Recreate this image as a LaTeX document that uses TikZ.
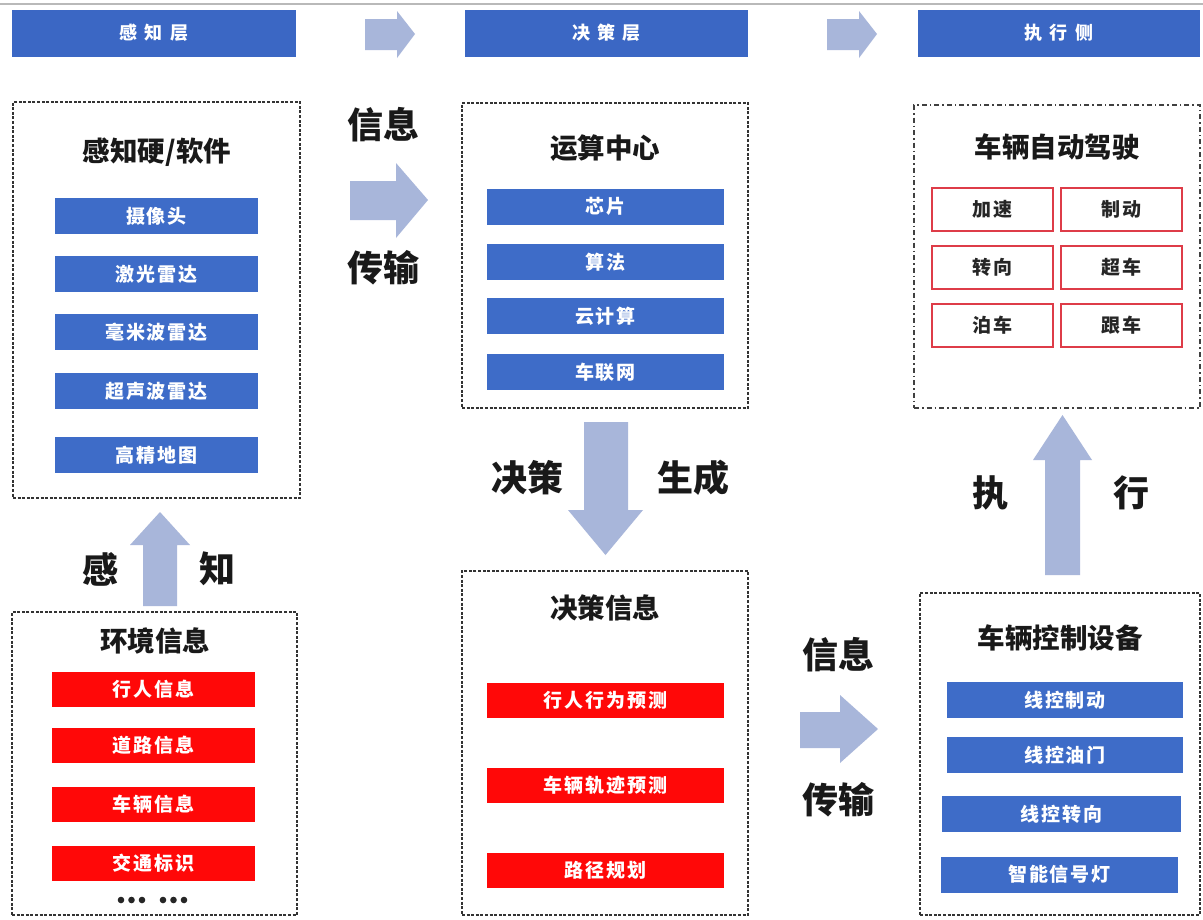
\documentclass[tikz,border=0pt]{standalone}
\usepackage{fontspec}
\setmainfont{Noto Sans CJK SC}
\definecolor{hdrblue}{RGB}{59,103,196}
\definecolor{barblue}{RGB}{62,108,200}
\definecolor{barred}{RGB}{255,8,8}
\definecolor{arrowc}{RGB}{168,182,218}
\definecolor{boxred}{RGB}{222,60,72}
\tikzset{
  hdr/.style={fill=hdrblue, draw=none, minimum height=47pt, text=white, font=\fontsize{18}{18}\selectfont\bfseries\addfontfeatures{LetterSpace=40}, inner sep=0pt},
  dbox/.style={draw=black!80, line width=1.6pt, dash pattern=on 3pt off 1.6pt, inner sep=0pt},
  ddbox/.style={draw=black!75, line width=1.6pt, dash pattern=on 5pt off 3pt on 1.5pt off 3pt, inner sep=0pt},
  ttl/.style={font=\fontsize{27.5}{28}\selectfont\bfseries, text=black!90, inner sep=0pt},
  bbar/.style={fill=barblue, minimum height=36pt, text=white, font=\fontsize{19}{19}\selectfont\bfseries\addfontfeatures{LetterSpace=10}, inner sep=0pt},
  rbar/.style={fill=barred, minimum height=35pt, text=white, font=\fontsize{19}{19}\selectfont\bfseries\addfontfeatures{LetterSpace=10}, inner sep=0pt},
  rbox/.style={draw=boxred, line width=2pt, fill=white, minimum width=121pt, minimum height=43pt, text=black!85, font=\fontsize{19}{19}\selectfont\bfseries\addfontfeatures{LetterSpace=10}, inner sep=0pt},
  big/.style={font=\fontsize{36}{36}\selectfont\bfseries, text=black!90, inner sep=0pt},
  blockarrow/.style={fill=arrowc, draw=none}
}
\begin{document}
\begin{tikzpicture}[x=1pt,y=-1pt]
\useasboundingbox (0,0) rectangle (1203,919);
\fill[white] (0,0) rectangle (1203,919);
% top gray line
\draw[gray!55, line width=2.5pt] (0,4) -- (1203,4);

% headers
\node[hdr, minimum width=284pt] (h1) at (154,33) {感知层};
\node[hdr, minimum width=283pt] (h2) at (606.5,33) {决策层};
\node[hdr, minimum width=282pt] (h3) at (1059,33) {执行侧};
\fill[blockarrow] (365,19) -- (397,19) -- (397,11) -- (415,34) -- (397,58) -- (397,50) -- (365,50) -- cycle;
\fill[blockarrow] (827,19) -- (859,19) -- (859,11) -- (877,34) -- (859,58) -- (859,50) -- (827,50) -- cycle;

% left top box
\node[dbox, minimum width=287pt, minimum height=396pt] (hw) at (156.5,300) {};
\node[ttl] (hwt) at (157,152) {感知硬/软件};
\node[bbar, minimum width=203pt] (s1) at (156.5,216) {摄像头};
\node[bbar, minimum width=203pt] (s2) at (156.5,274) {激光雷达};
\node[bbar, minimum width=203pt] (s3) at (156.5,332) {毫米波雷达};
\node[bbar, minimum width=203pt] (s4) at (156.5,391) {超声波雷达};
\node[bbar, minimum width=203pt] (s5) at (156.5,455) {高精地图};

% left bottom box
\node[dbox, minimum width=285pt, minimum height=303pt] (env) at (154.5,763.5) {};
\node[ttl] (envt) at (155,641) {环境信息};
\node[rbar, minimum width=203pt] (e1) at (153.5,689) {行人信息};
\node[rbar, minimum width=203pt] (e2) at (153.5,745.5) {道路信息};
\node[rbar, minimum width=203pt] (e3) at (153.5,804.5) {车辆信息};
\node[rbar, minimum width=203pt] (e4) at (153.5,863.5) {交通标识};
\foreach \xx in {121,131.5,142,163,173.5,184} \fill[black!85] (\xx,900) circle (3.3pt);

% up arrow left (感知)
\fill[blockarrow] (143,606) -- (143,545) -- (130,545) -- (160,512) -- (190,545) -- (177,545) -- (177,606) -- cycle;
\node[big] (gz1) at (100,569) {感};
\node[big] (gz2) at (217,569) {知};

% middle top box
\node[dbox, minimum width=286pt, minimum height=305pt] (cc) at (605,255.5) {};
\node[ttl] (cct) at (605,148) {运算中心};
\node[bbar, minimum width=237pt] (c1) at (605.5,206.5) {芯片};
\node[bbar, minimum width=237pt] (c2) at (605.5,262) {算法};
\node[bbar, minimum width=237pt] (c3) at (605.5,316) {云计算};
\node[bbar, minimum width=237pt] (c4) at (605.5,372) {车联网};

% top middle arrow (信息 传输)
\fill[blockarrow] (350,181) -- (396,181) -- (396,163) -- (428,200) -- (396,238) -- (396,220) -- (350,220) -- cycle;
\node[big] (xx1) at (383,125) {信息};
\node[big] (xx2) at (383,268) {传输};

% down arrow (决策 生成)
\fill[blockarrow] (584,422) -- (628,422) -- (628,510) -- (643,510) -- (605.5,555) -- (568,510) -- (584,510) -- cycle;
\node[big] (js1) at (527,478) {决策};
\node[big] (js2) at (693,478) {生成};

% middle bottom box
\node[dbox, minimum width=286pt, minimum height=344pt] (dec) at (605,743) {};
\node[ttl] (dect) at (605,608) {决策信息};
\node[rbar, minimum width=237pt] (d1) at (605.5,700) {行人行为预测};
\node[rbar, minimum width=237pt] (d2) at (605.5,785.5) {车辆轨迹预测};
\node[rbar, minimum width=237pt] (d3) at (605.5,870.5) {路径规划};

% bottom middle arrow (信息 传输)
\fill[blockarrow] (800,712) -- (840,712) -- (840,695) -- (878,729) -- (840,763) -- (840,748) -- (800,748) -- cycle;
\node[big] (xb1) at (838,655) {信息};
\node[big] (xb2) at (838,800) {传输};

% right top box
\node[ddbox, minimum width=286pt, minimum height=303pt] (ad) at (1057,256.5) {};
\node[ttl] (adt) at (1057,147) {车辆自动驾驶};
\node[rbox] (a1) at (992.5,209.5) {加速};
\node[rbox] (a2) at (1121.5,209.5) {制动};
\node[rbox] (a3) at (992.5,267) {转向};
\node[rbox] (a4) at (1121.5,267) {超车};
\node[rbox] (a5) at (992.5,325.5) {泊车};
\node[rbox] (a6) at (1121.5,325.5) {跟车};

% up arrow right (执行)
\fill[blockarrow] (1045,575) -- (1045,460) -- (1033,460) -- (1062.5,415) -- (1092,460) -- (1080,460) -- (1080,575) -- cycle;
\node[big] (zx1) at (990,493) {执};
\node[big] (zx2) at (1131,493) {行};

% right bottom box
\node[dbox, minimum width=280pt, minimum height=322pt] (ctl) at (1060,754) {};
\node[ttl] (ctlt) at (1060,638) {车辆控制设备};
\node[bbar, minimum width=236pt] (k1) at (1065,700) {线控制动};
\node[bbar, minimum width=236pt] (k2) at (1065,755) {线控油门};
\node[bbar, minimum width=239pt] (k3) at (1061.5,814) {线控转向};
\node[bbar, minimum width=237pt] (k4) at (1059.5,874.5) {智能信号灯};
\end{tikzpicture}
\end{document}
